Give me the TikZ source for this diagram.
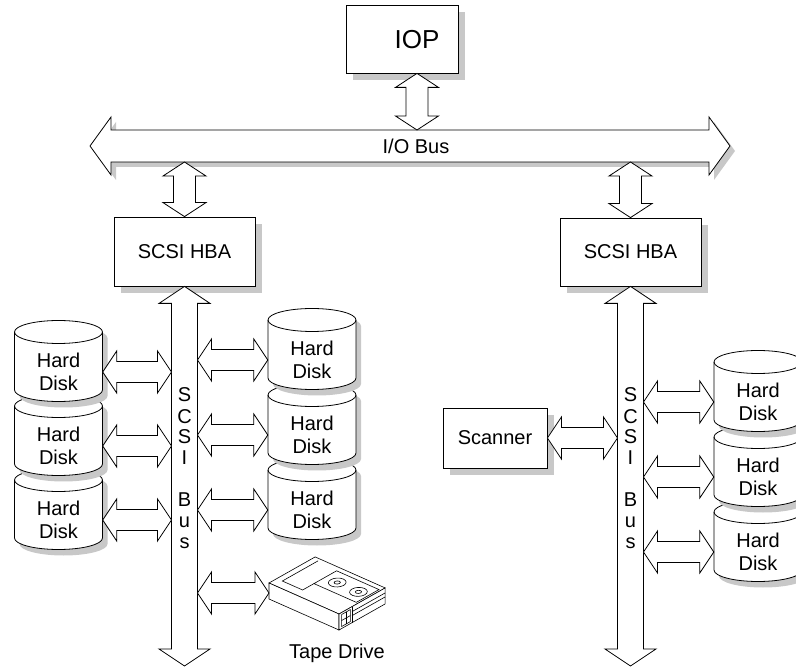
\documentclass[tikz,border=0pt]{standalone}
\usepackage{fontspec}
\setmainfont{Liberation Sans}
\usetikzlibrary{calc,shadows}

\definecolor{dropgray}{RGB}{200,200,200}
\newcommand{\labelfont}{\fontsize{20}{23}\selectfont}

% double block arrow from left tip #2 to right tip #3
% #4 half shaft, #5 half head, #6 head length
\newcommand{\harrow}[6]{%
  \path[#1] (#2) -- ++(#6,-#5) -- ++(0,{#5-#4}) -- ($(#3)+(-#6,-#4)$) -- ++(0,{#4-#5})
    -- (#3) -- ++(-#6,#5) -- ++(0,{#4-#5}) -- ($(#2)+(#6,#4)$) -- ++(0,{#5-#4}) -- cycle;}
% same, from top tip #2 to bottom tip #3
\newcommand{\varrow}[6]{%
  \path[#1] (#2) -- ++(#5,#6) -- ++({#4-#5},0) -- ($(#3)+(#4,-#6)$) -- ++({#5-#4},0)
    -- (#3) -- ++(-#5,-#6) -- ++({#5-#4},0) -- ($(#2)+(-#4,#6)$) -- ++({#4-#5},0) -- cycle;}

% disk cylinder outline, around the label centre
\newcommand{\diskshape}[1]{%
  \path[#1] (-44,-40) -- (-44,18) arc[start angle=180, end angle=360, x radius=44pt, y radius=11.5pt]
    -- (44,-40) arc[start angle=0, end angle=180, x radius=44pt, y radius=11.5pt] -- cycle;}
\newcommand{\harddisk}[3]{%
  \begin{scope}[shift={(#2,#3)}]
    \diskshape{fill=dropgray, xshift=5pt, yshift=-6pt}
    \diskshape{draw, fill=white, line width=0.8pt}
    \draw[line width=0.8pt] (-44,-40) arc[start angle=180, end angle=360, x radius=44pt, y radius=11.5pt];
    \node[disklabel] (#1) at (0,0) {Hard\\Disk};
  \end{scope}}

\begin{document}
\begin{tikzpicture}[x=1pt,y=-1pt,
  box/.style={draw, line width=0.8pt, fill=white, inner sep=0pt, font=\labelfont,
    drop shadow={opacity=1, fill=dropgray, shadow xshift=7pt, shadow yshift=-7pt}},
  blockarrow/.style={draw, fill=white, line width=0.8pt},
  busshadow/.style={fill=dropgray, transform canvas={xshift=5pt, yshift=-5pt}},
  disklabel/.style={minimum width=88pt, minimum height=58pt, inner sep=0pt, align=center, font=\labelfont},
  letter/.style={font=\labelfont, inner sep=0pt}]
\useasboundingbox (0,0) rectangle (796,668);

% IOP and the I/O bus
\node[box, minimum width=112pt, minimum height=68pt] (iop) at (402,39) {};
\node[font=\fontsize{26}{30}\selectfont] (ioplabel) at (417,40) {IOP};
\coordinate (busL) at (90,146);
\coordinate (busR) at (730,146);
\coordinate (bustop) at (0,130);
\coordinate (busbot) at (0,162);
\harrow{busshadow}{busL}{busR}{16}{29}{21}
\harrow{blockarrow}{busL}{busR}{16}{29}{21}
\node[font=\labelfont] (iobus) at (416,146) {I/O Bus};
\varrow{blockarrow}{ioplabel |- iop.south}{ioplabel |- bustop}{11}{21.5}{14}

% host bus adapters
\node[box, minimum width=141pt, minimum height=69pt] (hbaL) at (184.5,251.5) {SCSI HBA};
\node[box, minimum width=141pt, minimum height=68pt] (hbaR) at (630.5,252) {SCSI HBA};
\varrow{blockarrow}{hbaL.north |- busbot}{hbaL.north}{11}{21.5}{14}
\varrow{blockarrow}{hbaR.north |- busbot}{hbaR.north}{11}{21.5}{14}

% SCSI buses
\coordinate (busend) at (0,666);
\varrow{blockarrow}{hbaL.south}{hbaL.south |- busend}{13}{25.5}{17}
\varrow{blockarrow}{hbaR.south}{hbaR.south |- busend}{13}{25.5}{17}
\coordinate (lbusW) at ($(hbaL.south)+(-13,0)$);
\coordinate (lbusE) at ($(hbaL.south)+(13,0)$);
\coordinate (rbusW) at ($(hbaR.south)+(-13,0)$);
\coordinate (rbusE) at ($(hbaR.south)+(13,0)$);
\foreach \ch/\yy [count=\i] in {S/395,C/417,S/437,I/458,B/500,u/522,s/543} {
  \node[letter] (lbus-\i) at (hbaL.south |- 0,\yy) {\ch};
  \node[letter] (rbus-\i) at (hbaR.south |- 0,\yy) {\ch};
}

% disks, lowest first so the upper ones overlap
\harddisk{ld3}{58.5}{520}
\harddisk{ld2}{58.5}{446}
\harddisk{ld1}{58.5}{372}
\harddisk{md3}{312}{510}
\harddisk{md2}{312}{435}
\harddisk{md1}{312}{360}
\harddisk{rd3}{758}{552}
\harddisk{rd2}{758}{477}
\harddisk{rd1}{758}{402}

\foreach \d in {ld1,ld2,ld3} {
  \harrow{blockarrow}{\d.east}{lbusW |- \d.east}{10.5}{21}{14}
}
\foreach \d in {md1,md2,md3} {
  \harrow{blockarrow}{lbusE |- \d.west}{\d.west}{10.5}{21}{14}
}
\foreach \d in {rd1,rd2,rd3} {
  \harrow{blockarrow}{rbusE |- \d.west}{\d.west}{10.5}{21}{14}
}

% scanner
\node[box, minimum width=104pt, minimum height=60pt] (scanner) at (495,438) {Scanner};
\harrow{blockarrow}{scanner.east}{rbusW |- scanner.east}{10.5}{21}{14}

% tape cartridge
\begin{scope}[shift={(269,583)}, x={(0.921pt,-0.408pt)}, y={(0.871pt,0.492pt)}, z={(0pt,-1pt)}, line width=0.6pt]
  \filldraw[fill=white] (0,0,0) -- (76,0,0) -- (76,53,0) -- (0,53,0) -- cycle;
  \filldraw[fill=white] (0,0,0) -- (76,0,0) -- (76,0,16) -- (0,0,16) -- cycle;
  \filldraw[fill=white] (76,0,0) -- (76,53,0) -- (76,53,16) -- (76,0,16) -- cycle;
  \draw (6,50,0) -- (6,9,0) -- (28,9,0) -- (28,22,0);
  \draw (28,48,0) -- (28,22,0) -- (74,22,0) -- (74,48,0) -- cycle;
  \foreach \a in {41,64} {
    \draw (\a,35,0) circle[radius=7];
    \draw (\a,35,0) circle[radius=2.5];
  }
  \draw (76,3,2) -- (76,13,2) -- (76,13,14) -- (76,3,14) -- cycle;
  \draw (76,8,2) -- (76,8,14);
  \draw (76,3,8) -- (76,13,8);
  \draw (76,15,0) -- (76,15,16);
  \draw (76,15,5) -- (76,53,5);
  \draw (76,15,9) -- (76,53,9);
\end{scope}
\coordinate (tape) at (269,593);
\harrow{blockarrow}{lbusE |- tape}{tape}{10.5}{21}{14}
\node[font=\labelfont] (tapelabel) at (337,653) {Tape Drive};
\end{tikzpicture}
\end{document}
